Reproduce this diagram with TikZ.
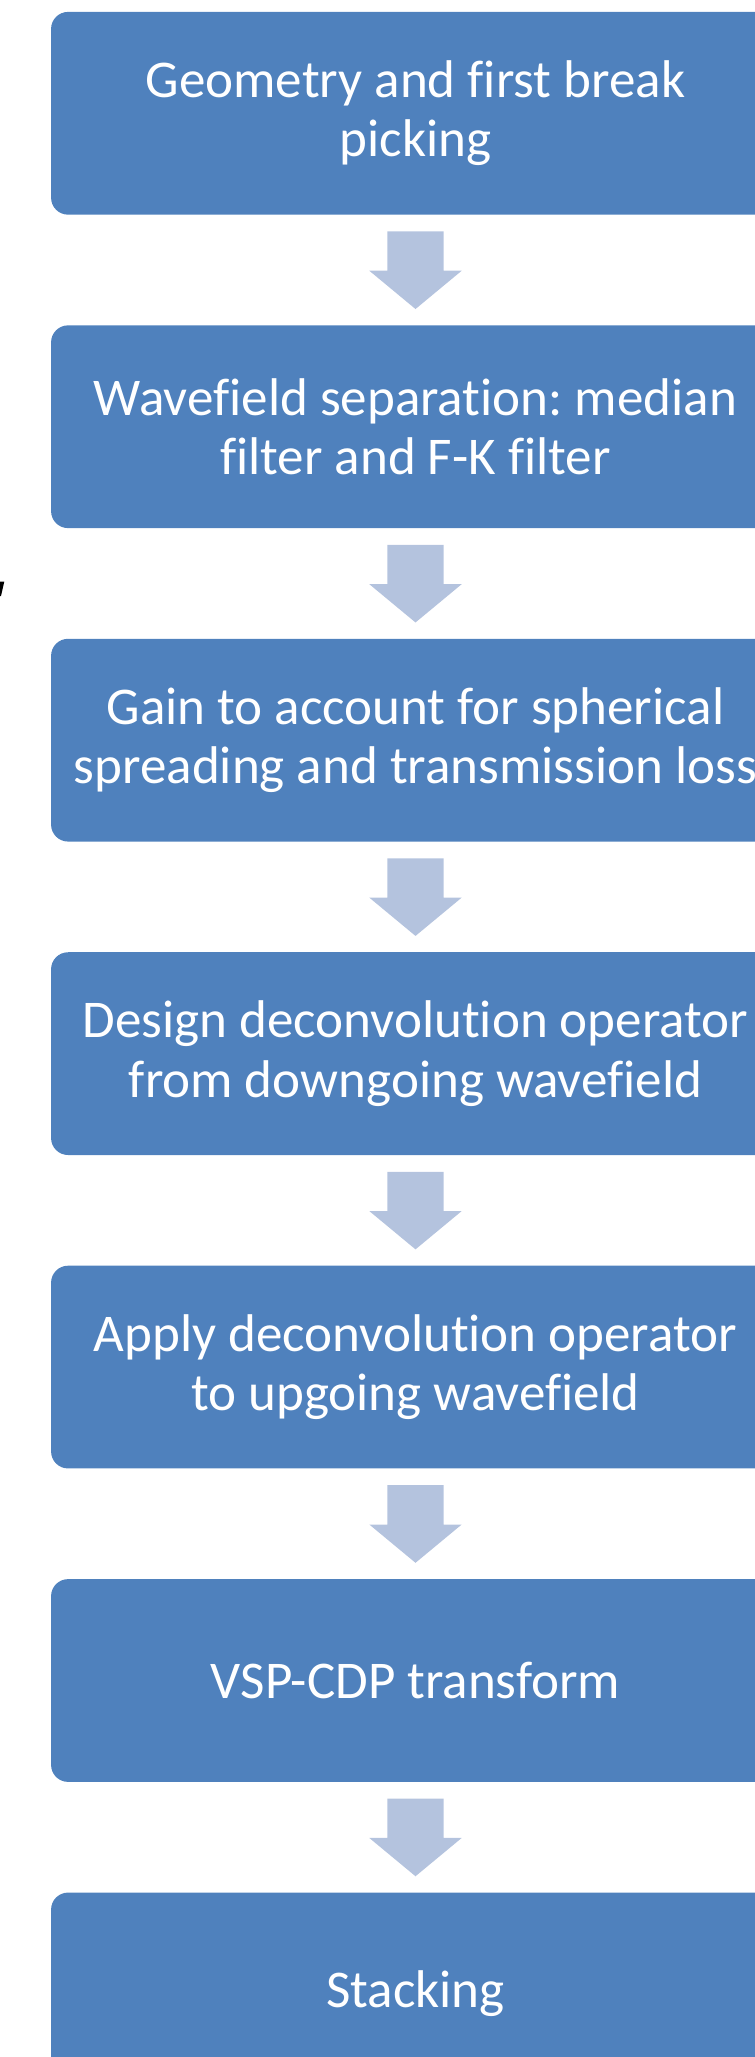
\documentclass[tikz,border=0pt]{standalone}
\usepackage{fontspec}
\setmainfont{Carlito}[Ligatures=NoCommon]
\usetikzlibrary{positioning}
\definecolor{stepblue}{RGB}{79,129,189}
\definecolor{arrowblue}{RGB}{180,195,222}
\tikzset{
  stepbox/.style={fill=stepblue, draw=none, rounded corners=0.34cm,
    minimum width=14.58cm, minimum height=4.056cm, inner sep=0pt,
    align=center, text=white, font=\fontsize{30.2pt}{33.6pt}\selectfont},
  flowarrow/.style={fill=arrowblue, draw=none}
}
\frenchspacing
\begin{document}
\begin{tikzpicture}[x=0.02cm, y=-0.02cm, node distance=2.2cm]
\useasboundingbox (0,0) rectangle (754,2057);

% Processing steps
\node[stepbox] (b1) at (415.5,113.3) {Geometry and first break\\picking};
\node[stepbox, below=of b1] (b2) {Wavefield separation: median\\filter and F-K filter};
\node[stepbox, below=of b2] (b3) {Gain to account for spherical\\spreading and transmission loss};
\node[stepbox, below=of b3] (b4) {Design deconvolution operator\\from downgoing wavefield};
\node[stepbox, below=of b4] (b5) {Apply deconvolution operator\\to upgoing wavefield};
\node[stepbox, below=of b5] (b6) {VSP-CDP transform};
\node[stepbox, below=of b6] (b7) {Stacking};

% Block arrows between steps
\foreach \i in {1,...,6} {
    \fill[flowarrow] (b\i.south) ++(-28.2,16.4) -- ++(56.4,0) -- ++(0,39.3)
        -- ++(18,0) -- ++(-46.2,38.3) -- ++(-46.2,-38.3) -- ++(18,0) -- cycle;
}

% Cut-off mark at the left edge
\fill[black] (0,581.5) -- (4.3,581.5) -- (1,596) -- (0,596) -- cycle;

\end{tikzpicture}
\end{document}
